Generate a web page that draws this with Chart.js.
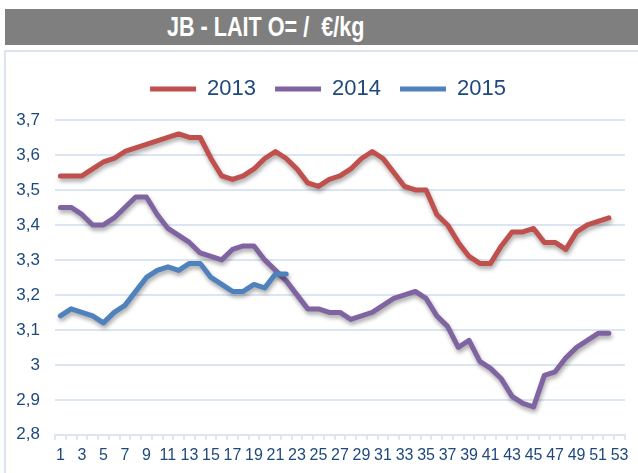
<!DOCTYPE html>
<html>
<head>
<meta charset="utf-8">
<script src="https://cdn.jsdelivr.net/npm/chart.js@4.4.0/dist/chart.umd.min.js"></script>
<style>
  body { margin: 0; width: 638px; height: 473px; overflow: hidden; background: #fff; position: relative; }
  #bandeau { position: absolute; left: 5px; top: 9px; width: 640px; height: 36px; background: #7F7F7F; }
  #titre { position: absolute; left: 167px; top: 9px; height: 36px; line-height: 36px; color: #fff;
           font-family: 'Liberation Sans', Arial, sans-serif; font-weight: bold; font-size: 27px;
           white-space: pre; transform: scaleX(0.8); transform-origin: left center; }
  #cadre { position: absolute; left: 4px; top: 50px; width: 700px; height: 500px; border: 2px solid #DBE5F1; }
  #zone { position: absolute; left: 0; top: 0; }
</style>
</head>
<body>
<div id="bandeau"></div>
<div id="titre">JB - LAIT O= /  €/kg</div>
<div id="cadre"></div>
<canvas id="zone" width="638" height="473"></canvas>
<script>
// semaines 1 a 53
var semaines = [];
for (var s = 1; s <= 53; s++) { semaines.push(String(s)); }

var prix2013 = [3.54, 3.54, 3.54, 3.56, 3.58, 3.59, 3.61, 3.62, 3.63, 3.64,
                3.65, 3.66, 3.65, 3.65, 3.59, 3.54, 3.53, 3.54, 3.56, 3.59,
                3.61, 3.59, 3.56, 3.52, 3.51, 3.53, 3.54, 3.56, 3.59, 3.61,
                3.59, 3.55, 3.51, 3.50, 3.50, 3.43, 3.40, 3.35, 3.31, 3.29,
                3.29, 3.34, 3.38, 3.38, 3.39, 3.35, 3.35, 3.33, 3.38, 3.40,
                3.41, 3.42];

var prix2014 = [3.45, 3.45, 3.43, 3.40, 3.40, 3.42, 3.45, 3.48, 3.48, 3.43,
                3.39, 3.37, 3.35, 3.32, 3.31, 3.30, 3.33, 3.34, 3.34, 3.30,
                3.27, 3.24, 3.20, 3.16, 3.16, 3.15, 3.15, 3.13, 3.14, 3.15,
                3.17, 3.19, 3.20, 3.21, 3.19, 3.14, 3.11, 3.05, 3.07, 3.01,
                2.99, 2.96, 2.91, 2.89, 2.88, 2.97, 2.98, 3.02, 3.05, 3.07,
                3.09, 3.09];

var prix2015 = [3.14, 3.16, 3.15, 3.14, 3.12, 3.15, 3.17, 3.21, 3.25, 3.27,
                3.28, 3.27, 3.29, 3.29, 3.25, 3.23, 3.21, 3.21, 3.23, 3.22,
                3.26, 3.26];

var POLICE = "Arial, 'Liberation Sans', sans-serif";
var BLEU_TEXTE = '#1F497D';
var GRILLE = '#DCE6F2';

// ombre portee comme dans Excel
var ombre = {
  id: 'ombre',
  beforeDatasetDraw: function(chart) {
    var c = chart.ctx;
    c.save();
    c.shadowColor = 'rgba(0,0,0,0.35)';
    c.shadowBlur = 4;
    c.shadowOffsetX = 1;
    c.shadowOffsetY = 3;
  },
  afterDatasetDraw: function(chart) {
    chart.ctx.restore();
  }
};

// la legende est un peu a gauche du centre du graphe
var decalageLegende = {
  id: 'decalageLegende',
  afterLayout: function(chart) {
    chart.legend.left -= 12;
    chart.legend.right -= 12;
  }
};

function serie(nom, valeurs, couleur, ordre) {
  return {
    label: nom,
    data: valeurs,
    borderColor: couleur,
    backgroundColor: couleur,
    borderWidth: 5,
    borderCapStyle: 'round',
    borderJoinStyle: 'round',
    pointRadius: 0,
    tension: 0,
    fill: false,
    order: ordre
  };
}

new Chart(document.getElementById('zone').getContext('2d'), {
  type: 'line',
  data: {
    labels: semaines,
    datasets: [
      serie('2013', prix2013, '#C0504D', 3),
      serie('2014', prix2014, '#8064A2', 2),
      serie('2015', prix2015, '#4F81BD', 1)
    ]
  },
  plugins: [ombre, decalageLegende],
  options: {
    responsive: false,
    animation: false,
    layout: { padding: { top: 59, left: 0, right: 13, bottom: 2 } },
    plugins: {
      tooltip: { enabled: false },
      legend: {
        position: 'top',
        fullSize: false,
        labels: {
          usePointStyle: true,
          pointStyle: 'line',
          pointStyleWidth: 46,
          padding: 19,
          color: BLEU_TEXTE,
          font: { family: POLICE, size: 22 },
          sort: function(a, b) { return a.datasetIndex - b.datasetIndex; }
        }
      },
      subtitle: {
        display: true,
        text: '',
        weight: 500,
        padding: 0,
        font: { size: 10, lineHeight: 1 }
      }
    },
    scales: {
      x: {
        offset: true,
        grid: { display: true, offset: true, drawOnChartArea: false, drawTicks: true, tickLength: 5, color: GRILLE, lineWidth: 2 },
        border: { display: true, color: GRILLE, width: 2 },
        ticks: {
          autoSkip: false,
          maxRotation: 0,
          padding: 6,
          color: BLEU_TEXTE,
          font: { family: POLICE, size: 16 },
          callback: function(v, i) { return i % 2 === 0 ? semaines[i] : ''; }
        }
      },
      y: {
        min: 2.8,
        max: 3.7,
        afterFit: function(axe) { axe.width = 55; },
        grid: { color: GRILLE, lineWidth: 2, drawTicks: false },
        border: { display: false },
        ticks: {
          stepSize: 0.1,
          padding: 15,
          color: BLEU_TEXTE,
          font: { family: POLICE, size: 17 },
          callback: function(v) { return String(Math.round(v * 10) / 10).replace('.', ','); }
        }
      }
    }
  }
});
</script>
</body>
</html>
